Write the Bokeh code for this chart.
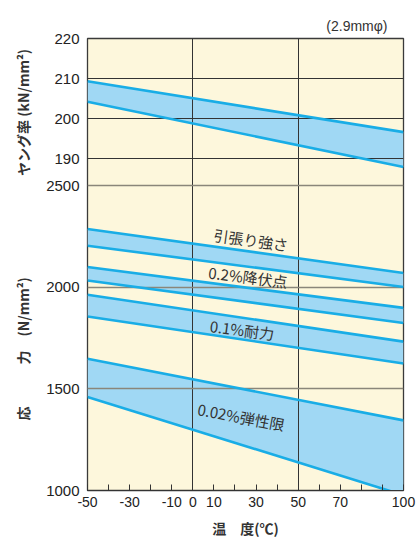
import math
from bokeh.plotting import figure
from bokeh.models import Range1d, FixedTicker, Title
from bokeh.core.properties import value
from bokeh.embed import file_html
from bokeh.resources import INLINE

# ---------------- data ----------------
temps = [-50, 100]                      # °C, line end points
young_upper = [209.3, 196.6]            # kN/mm2
young_lower = [204.2, 187.9]
tensile_upper = [2286, 2070]            # N/mm2
tensile_lower = [2204, 2001]
yield_upper = [2099, 1898]
yield_lower = [2033, 1824]
proof_upper = [1963, 1732]
proof_lower = [1856, 1625]
elastic_upper = [1648, 1345]
elastic_lower = [1460, 977]

x_ticks = [-50, -40, -30, -20, -10, 0, 10, 20, 30, 40, 50, 60, 70, 80, 90, 100]
x_labels_shown = [-50, -30, -10, 0, 10, 30, 50, 70, 100]
x_grid = [0, 50]
young_ticks = [190, 200, 210, 220]
young_grid = [190, 200, 210]
stress_ticks = [1000, 1500, 2000, 2500]
stress_grid = [1500, 2000, 2500]

band_names = ["引張り強さ", "0.2%降伏点", "0.1%耐力", "0.02%弾性限"]
name_x = [27.6, 26.2, 23.4, 22.9]
name_y = [2233, 2051, 1791, 1363]
name_angle_deg = [-8, -7, -7.5, -10.5]

stress_title = "応　　　力　(N/mm²)"
young_title = "ヤング率 (kN/mm²)"
temp_title = "温　度(℃)"
wire_note = "(2.9mmφ)"

# ---------------- layout ----------------
TOP_PX, BOT_PX = 147, 305
YOUNG_MAX, YOUNG_BOTTOM = 220, 183.25
STRESS_MIN, STRESS_CUT = 1000, 2500

stress_top = STRESS_CUT + (STRESS_CUT - STRESS_MIN) * TOP_PX / BOT_PX
young_start = YOUNG_MAX - (YOUNG_MAX - YOUNG_BOTTOM) * (TOP_PX + BOT_PX) / TOP_PX


def young_to_stress(v):
    return STRESS_MIN + (v - young_start) / (YOUNG_MAX - young_start) * (stress_top - STRESS_MIN)


FILL = "#a0d8f4"
LINE = "#19ade6"
GRID_DARK = "#333333"
GRID_GRAY = "#8a867a"
TXT = "#333333"

p = figure(width=417, height=541,
           x_range=Range1d(-50, 100),
           y_range=Range1d(STRESS_MIN, young_to_stress(YOUNG_MAX)),
           output_backend="svg", toolbar_location=None,
           min_border_left=86, min_border_right=14,
           min_border_top=38, min_border_bottom=51)
p.extra_y_ranges = {"young": Range1d(young_start, YOUNG_MAX)}

p.background_fill_color = "#fdf7dc"
p.border_fill_color = "white"
p.outline_line_color = "#3a3a3a"
p.outline_line_width = 1.3
p.xgrid.visible = False
p.ygrid.visible = False

# band fills
p.varea(x=temps, y1=young_lower, y2=young_upper, fill_color=FILL, y_range_name="young")
for lo, hi in [(tensile_lower, tensile_upper), (yield_lower, yield_upper),
               (proof_lower, proof_upper), (elastic_lower, elastic_upper)]:
    p.varea(x=temps, y1=lo, y2=hi, fill_color=FILL)

# grid lines
p.vspan(x=x_grid, line_color=GRID_DARK, line_width=1)
p.hspan(y=young_grid, line_color=GRID_DARK, line_width=1, y_range_name="young")
p.hspan(y=stress_grid, line_color=GRID_GRAY, line_width=1.6)

# band lines
p.line(temps, young_upper, line_color=LINE, line_width=2.6, y_range_name="young")
p.line(temps, young_lower, line_color=LINE, line_width=2.6, y_range_name="young")
for ys in [tensile_upper, tensile_lower, yield_upper, yield_lower,
           proof_upper, proof_lower, elastic_upper, elastic_lower]:
    p.line(temps, ys, line_color=LINE, line_width=2.6)

# band names
p.text(x=name_x, y=name_y, text=band_names,
       angle=[math.radians(a) for a in name_angle_deg],
       text_font=value("Noto Sans CJK JP"), text_font_size="15px",
       text_color=TXT, text_align="center", text_baseline="middle")

# x axis
xa = p.xaxis[0]
xa.ticker = FixedTicker(ticks=x_ticks)
xa.major_label_overrides = {t: (str(t) if t in x_labels_shown else "") for t in x_ticks}
xa.major_tick_in = 6
xa.major_tick_out = 0
xa.minor_tick_line_color = None
xa.major_tick_line_color = GRID_DARK
xa.axis_line_color = GRID_DARK
xa.major_label_text_font = "Liberation Sans"
xa.major_label_text_font_size = "14px"
xa.major_label_text_color = "#222222"
xa.major_label_standoff = 6
xa.axis_label = temp_title
xa.axis_label_text_font = "Noto Sans CJK JP"
xa.axis_label_text_font_style = "bold"
xa.axis_label_text_font_size = "14px"
xa.axis_label_text_color = TXT
xa.axis_label_standoff = 8

# y axis (stress positions plus young's modulus positions)
ya = p.yaxis[0]
young_pos = [young_to_stress(v) for v in young_ticks]
ya.ticker = FixedTicker(ticks=stress_ticks + young_pos)
overrides = {float(s): str(s) for s in stress_ticks}
overrides.update({pos: str(v) for pos, v in zip(young_pos, young_ticks)})
ya.major_label_overrides = overrides
ya.major_tick_in = 0
ya.major_tick_out = 0
ya.minor_tick_line_color = None
ya.axis_line_color = None
ya.major_label_text_font = "Liberation Sans"
ya.major_label_text_font_size = "15px"
ya.major_label_text_color = "#222222"
ya.major_label_standoff = 8

# vertical axis titles (one left-side title carrying both captions)
y_caption = stress_title + "　" * 7 + " " + young_title
p.add_layout(Title(text=y_caption, align="left", offset=70,
                   text_font="Noto Sans CJK JP", text_font_style="bold",
                   text_font_size="14px", text_color=TXT, standoff=21), "left")

p.title.text = wire_note
p.title.align = "right"
p.title.offset = 16
p.title.text_font = "Liberation Sans"
p.title.text_font_style = "normal"
p.title.text_font_size = "14px"
p.title.text_color = TXT

open("out.html", "w").write(file_html(p, INLINE))
